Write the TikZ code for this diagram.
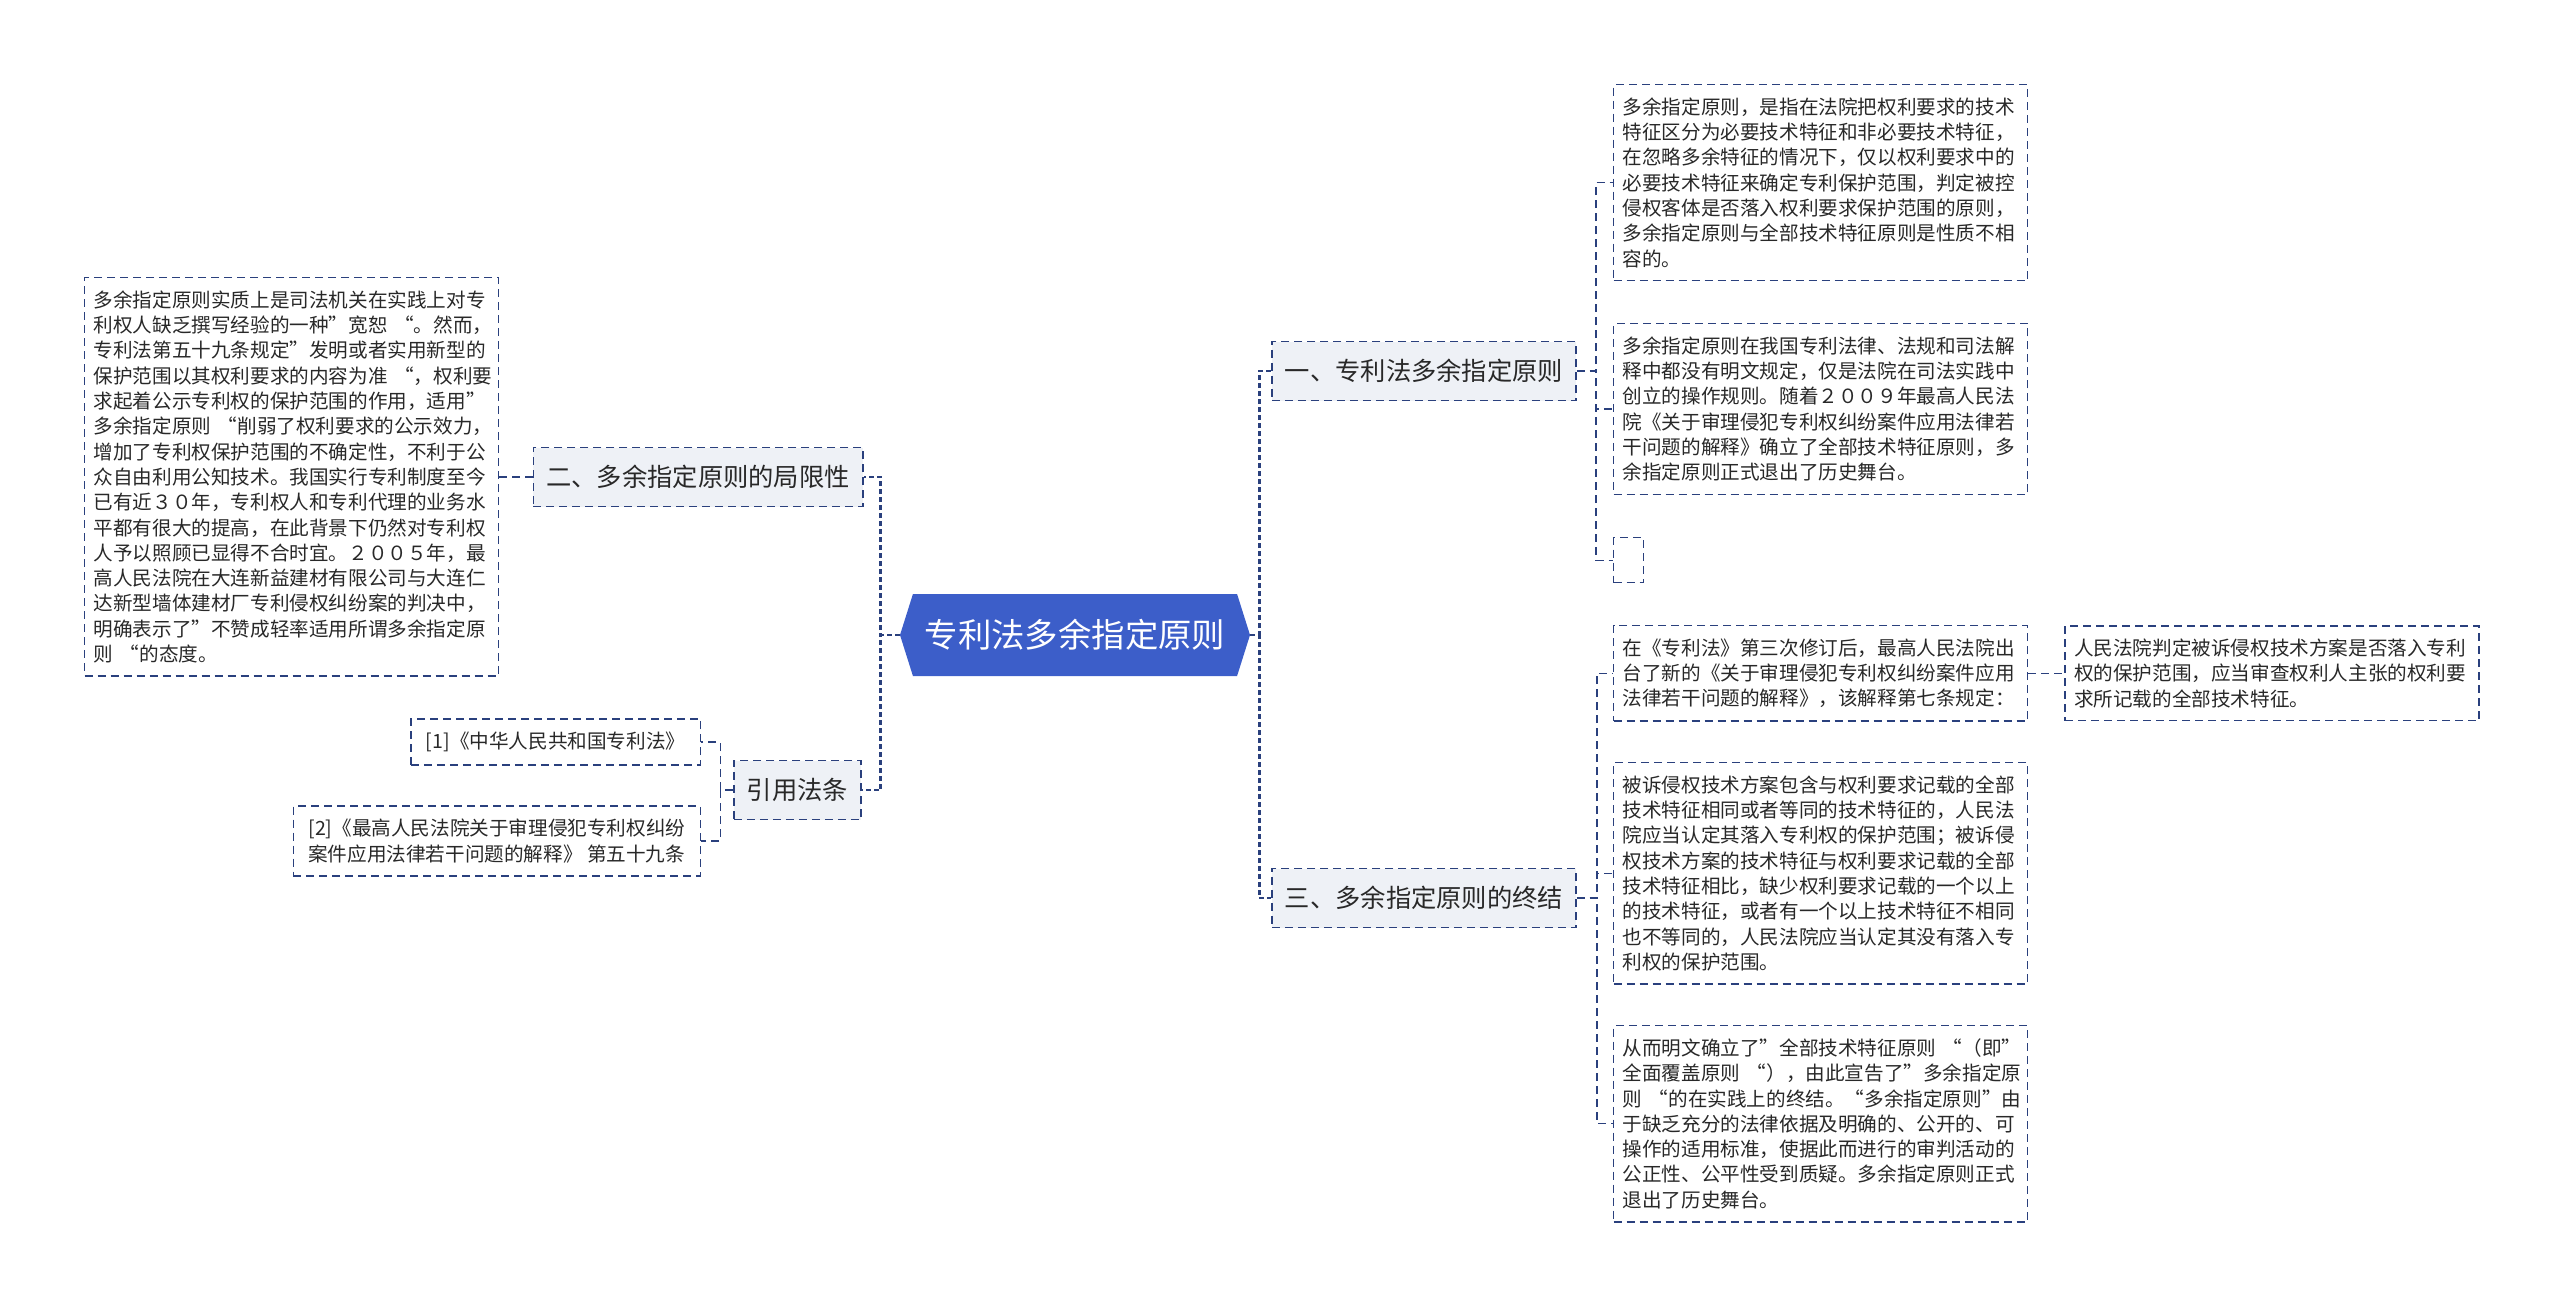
\documentclass[tikz,border=0pt]{standalone}
\usepackage{fontspec}
\setmainfont{Noto Sans CJK SC}
\usetikzlibrary{positioning,shapes.symbols}
\definecolor{linkblue}{RGB}{42,64,125}
\definecolor{rootblue}{RGB}{60,94,201}
\definecolor{topicfill}{RGB}{238,241,246}
\definecolor{inkgray}{RGB}{40,40,40}

\begin{document}
\begin{tikzpicture}[x=0.5pt, y=-0.5pt,
  root/.style={signal, signal to=west and east, signal pointer angle=145, fill=rootblue, text=white,
    minimum width=175pt, minimum height=41pt, inner sep=0pt, font=\fontsize{16.7pt}{20pt}\selectfont},
  topic/.style={draw=linkblue, line width=0.7pt, dash pattern=on 4pt off 2.5pt, fill=topicfill, text=inkgray,
    minimum height=29.5pt, inner xsep=6.5pt, inner ysep=0pt, font=\fontsize{12.65pt}{15pt}\selectfont},
  note/.style={draw=linkblue, line width=0.7pt, dash pattern=on 4pt off 2.5pt, text=inkgray, align=left,
    inner xsep=4.5pt, inner ysep=6.5pt, font=\fontsize{9.8pt}{12.65pt}\selectfont},
  longnote/.style={note, text width=198pt},
  trunk/.style={draw=linkblue, line width=1.4pt, dash pattern=on 2.5pt off 1.5pt},
  twig/.style={draw=linkblue, line width=0.7pt, dash pattern=on 4pt off 2.5pt}]
\useasboundingbox (0,0) rectangle (2560,1307);

\node[root] (r) at (1075,635) {专利法多余指定原则};

% main topics
\node[topic] (t1) at (1424,371) {一、专利法多余指定原则};
\node[topic] (t3) at (1424,898) {三、多余指定原则的终结};
\node[topic] (t2) at (698,477) {二、多余指定原则的局限性};
\node[topic] (cite) at (797.5,790) {引用法条};

% left side
\node[longnote, anchor=north west] (n0) at (84,277) {多余指定原则实质上是司法机关在实践上对专\\
利权人缺乏撰写经验的一种”宽恕~“。然而，\\
专利法第五十九条规定”发明或者实用新型的\\
保护范围以其权利要求的内容为准~“，权利要\\
求起着公示专利权的保护范围的作用，适用”\\
多余指定原则~“削弱了权利要求的公示效力，\\
增加了专利权保护范围的不确定性，不利于公\\
众自由利用公知技术。我国实行专利制度至今\\
已有近３０年，专利权人和专利代理的业务水\\
平都有很大的提高，在此背景下仍然对专利权\\
人予以照顾已显得不合时宜。２００５年，最\\
高人民法院在大连新益建材有限公司与大连仁\\
达新型墙体建材厂专利侵权纠纷案的判决中，\\
明确表示了”不赞成轻率适用所谓多余指定原\\
则~“的态度。};
\node[note, inner xsep=7.5pt, anchor=east] (c1) at (701,742) {[1]《中华人民共和国专利法》};
\node[note, inner xsep=7.5pt, anchor=east] (c2) at (701,841) {[2]《最高人民法院关于审理侵犯专利权纠纷\\
案件应用法律若干问题的解释》~第五十九条};

% right side, first topic
\node[longnote, anchor=north west] (n1) at (1613,84) {多余指定原则，是指在法院把权利要求的技术\\
特征区分为必要技术特征和非必要技术特征，\\
在忽略多余特征的情况下，仅以权利要求中的\\
必要技术特征来确定专利保护范围，判定被控\\
侵权客体是否落入权利要求保护范围的原则，\\
多余指定原则与全部技术特征原则是性质不相\\
容的。};
\node[longnote, anchor=north west] (n2) at (1613,323) {多余指定原则在我国专利法律、法规和司法解\\
释中都没有明文规定，仅是法院在司法实践中\\
创立的操作规则。随着２００９年最高人民法\\
院《关于审理侵犯专利权纠纷案件应用法律若\\
干问题的解释》确立了全部技术特征原则，多\\
余指定原则正式退出了历史舞台。};
\node[note, anchor=north west, minimum width=15pt, minimum height=22.5pt] (n3) at (1613,537) {};

% right side, third topic
\node[longnote, anchor=north west] (n4) at (1613,625) {在《专利法》第三次修订后，最高人民法院出\\
台了新的《关于审理侵犯专利权纠纷案件应用\\
法律若干问题的解释》，该解释第七条规定：};
\node[longnote, right=18pt of n4] (n5) {人民法院判定被诉侵权技术方案是否落入专利\\
权的保护范围，应当审查权利人主张的权利要\\
求所记载的全部技术特征。};
\node[longnote, anchor=north west] (n6) at (1613,762) {被诉侵权技术方案包含与权利要求记载的全部\\
技术特征相同或者等同的技术特征的，人民法\\
院应当认定其落入专利权的保护范围；被诉侵\\
权技术方案的技术特征与权利要求记载的全部\\
技术特征相比，缺少权利要求记载的一个以上\\
的技术特征，或者有一个以上技术特征不相同\\
也不等同的，人民法院应当认定其没有落入专\\
利权的保护范围。};
\node[longnote, anchor=north west] (n7) at (1613,1025) {从而明文确立了”全部技术特征原则~“（即”\\
全面覆盖原则~“），由此宣告了”多余指定原\\
则~“的在实践上的终结。“多余指定原则”由\\
于缺乏充分的法律依据及明确的、公开的、可\\
操作的适用标准，使据此而进行的审判活动的\\
公正性、公平性受到质疑。多余指定原则正式\\
退出了历史舞台。};

% connectors
\draw[trunk] (r.east) -- ++(9,0) |- (t1.west);
\draw[trunk] (r.east) -- ++(9,0) |- (t3.west);
\draw[trunk] (r.west) -- ++(-19,0) |- (t2.east);
\draw[trunk] (r.west) -- ++(-19,0) |- (cite.east);
\draw[twig] (t2.west) -- ++(-18,0) |- (n0.east);
\draw[twig] (cite.west) -- ++(-13,0) |- (c1.east);
\draw[twig] (cite.west) -- ++(-13,0) |- (c2.east);
\draw[twig] (t1.east) -- ++(19,0) |- (n1.west);
\draw[twig] (t1.east) -- ++(19,0) |- (n2.west);
\draw[twig] (t1.east) -- ++(19,0) |- (n3.west);
\draw[twig] (t3.east) -- ++(20,0) |- (n4.west);
\draw[twig] (t3.east) -- ++(20,0) |- (n6.west);
\draw[twig] (t3.east) -- ++(20,0) |- (n7.west);
\draw[twig] (n4.east) -- (n5.west);
\end{tikzpicture}
\end{document}
